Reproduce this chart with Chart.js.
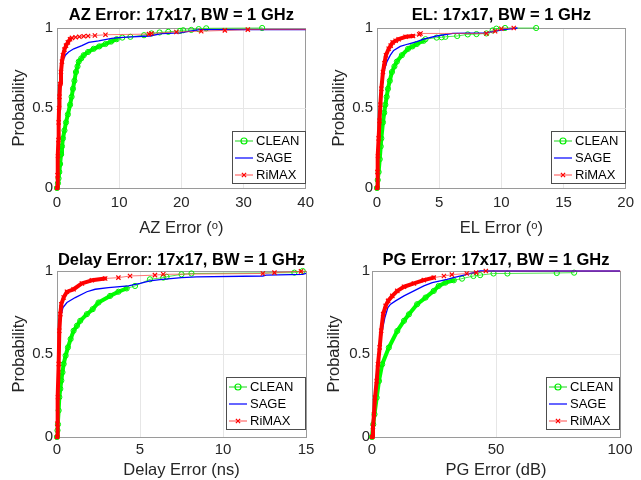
<!DOCTYPE html>
<html>
<head>
<meta charset="utf-8">
<script src="https://cdn.jsdelivr.net/npm/chart.js@4.4.0/dist/chart.umd.min.js"></script>
<style>
  body { margin: 0; background: #fff; width: 641px; height: 480px; position: relative; overflow: hidden; }
  canvas { position: absolute; }
</style>
</head>
<body>
<canvas id="az" width="320" height="240" style="left:0;top:0"></canvas>
<canvas id="el" width="320" height="240" style="left:320px;top:0"></canvas>
<canvas id="delay" width="320" height="240" style="left:0;top:240px"></canvas>
<canvas id="pg" width="320" height="240" style="left:320px;top:240px"></canvas>
<script>
// CDF curves: [error, probability]
const azClean = [[0,0],[0.15,0.03],[0.25,0.06],[0.37,0.1],[0.5,0.15],[0.65,0.21],[0.8,0.26],[0.96,0.31],[1.2,0.36],[1.45,0.41],[1.75,0.46],[2.1,0.52],[2.35,0.57],[2.57,0.62],[2.8,0.67],[3.05,0.725],[3.3,0.76],[3.5,0.79],[3.9,0.81],[4.3,0.83],[5.0,0.85],[5.9,0.87],[6.8,0.885],[7.8,0.9],[8.7,0.915],[9.6,0.93],[10.5,0.94],[11.8,0.945],[14.0,0.955],[15.2,0.966],[16.5,0.972],[17.9,0.976],[19.8,0.982],[20.3,0.986],[21.6,0.988],[22.8,0.993],[24.0,0.998],[33.0,1.0]];
const azSage = [[0,0],[0.1,0.15],[0.2,0.35],[0.3,0.5],[0.45,0.62],[0.6,0.7],[0.8,0.76],[1.0,0.8],[1.34,0.83],[1.87,0.85],[2.7,0.87],[4.0,0.89],[5.1,0.91],[6.7,0.92],[8.8,0.935],[9.9,0.94],[12,0.945],[14.9,0.95],[16.8,0.965],[19.8,0.97],[21.4,0.98],[23,0.99],[40,0.99]];
const azRimax = [[0,0],[0.08,0.08],[0.16,0.2],[0.22,0.3],[0.27,0.41],[0.33,0.5],[0.4,0.57],[0.5,0.65],[0.64,0.725],[0.8,0.79],[0.96,0.83],[1.2,0.865],[1.45,0.89],[1.75,0.91],[2.1,0.93],[2.4,0.938],[3.0,0.942],[3.6,0.945],[4.3,0.948],[5.0,0.95],[6.1,0.953],[7.8,0.958],[14.8,0.962],[15.2,0.966],[19.2,0.975],[23.2,0.98],[27,0.985],[30.7,0.99],[40,0.99]];

const elClean = [[0,0],[0.06,0.05],[0.13,0.1],[0.22,0.18],[0.3,0.26],[0.35,0.31],[0.48,0.41],[0.58,0.47],[0.67,0.52],[0.78,0.57],[0.88,0.62],[1.03,0.67],[1.2,0.725],[1.4,0.76],[1.6,0.79],[2.0,0.83],[2.5,0.87],[2.85,0.885],[3.2,0.9],[3.75,0.92],[3.9,0.93],[4.8,0.94],[5.2,0.942],[5.5,0.945],[6.45,0.95],[7.3,0.96],[8.0,0.962],[8.8,0.966],[9.3,0.985],[9.6,0.996],[10.3,1.0],[12.8,1.0]];
const elSage = [[0,0],[0.08,0.15],[0.15,0.3],[0.28,0.5],[0.4,0.62],[0.54,0.725],[0.8,0.79],[1.07,0.83],[1.34,0.86],[1.87,0.885],[2.5,0.9],[3.2,0.915],[3.75,0.93],[4.8,0.95],[6.1,0.966],[8.8,0.97],[9.5,0.98],[10.2,0.99],[11.3,1.0]];
const elRimax = [[0,0],[0.03,0.1],[0.08,0.2],[0.13,0.31],[0.2,0.42],[0.27,0.52],[0.35,0.62],[0.48,0.725],[0.6,0.78],[0.72,0.83],[0.94,0.87],[1.1,0.89],[1.26,0.91],[1.5,0.92],[1.74,0.93],[2.3,0.945],[2.9,0.95],[3.4,0.96],[3.5,0.966],[8.8,0.966],[9.5,0.98],[10.0,0.995],[11.0,1.0]];

const delayClean = [[0,0],[0.03,0.04],[0.06,0.076],[0.1,0.16],[0.14,0.24],[0.2,0.29],[0.26,0.34],[0.33,0.39],[0.4,0.44],[0.52,0.49],[0.66,0.54],[0.82,0.59],[1.0,0.64],[1.2,0.67],[1.4,0.7],[1.8,0.74],[2.15,0.77],[2.5,0.81],[3.2,0.85],[3.7,0.875],[4.2,0.895],[4.7,0.91],[5.6,0.95],[6.4,0.96],[6.6,0.965],[7.5,0.98],[8.1,0.985],[14.3,0.99],[14.8,1.0]];
const delaySage = [[0,0],[0.03,0.2],[0.07,0.4],[0.1,0.55],[0.14,0.64],[0.26,0.74],[0.36,0.78],[0.6,0.81],[1.1,0.84],[1.8,0.875],[2.3,0.89],[3.1,0.9],[4.3,0.91],[5.0,0.925],[5.6,0.94],[6.2,0.948],[7.5,0.96],[8.4,0.965],[12.4,0.97],[12.6,0.975],[14.8,0.98],[15,0.985]];
const delayRimax = [[0,0],[0.02,0.08],[0.06,0.24],[0.1,0.44],[0.14,0.64],[0.2,0.74],[0.26,0.8],[0.4,0.84],[0.6,0.875],[1.0,0.89],[1.5,0.925],[2.1,0.944],[2.9,0.955],[3.7,0.96],[4.4,0.97],[5.9,0.975],[6.4,0.98],[12.4,0.985],[13.1,0.99],[14.7,0.998],[15,0.998]];

const pgClean = [[0,0],[0.5,0.076],[1.0,0.137],[1.9,0.237],[2.8,0.337],[4.1,0.438],[6.8,0.539],[10.2,0.639],[12.9,0.7],[14.9,0.739],[18.2,0.8],[21.6,0.84],[24.9,0.88],[26.9,0.91],[29.6,0.93],[33,0.944],[36.3,0.954],[40.9,0.97],[43.6,0.975],[49,0.985],[54.6,0.985],[74.5,0.988],[81.5,0.99]];
const pgSage = [[0,0],[0.8,0.2],[1.6,0.35],[2.4,0.45],[3.1,0.54],[4.1,0.64],[5.2,0.72],[6.4,0.78],[7.5,0.8],[9.5,0.82],[12.9,0.85],[16.9,0.88],[20.9,0.91],[24.3,0.93],[30.3,0.95],[32.9,0.96],[38.3,0.98],[43.6,1.0],[100,1.0]];
const pgRimax = [[0,0],[0.4,0.06],[0.8,0.137],[1.2,0.237],[1.9,0.337],[2.4,0.438],[3.1,0.54],[3.7,0.64],[4.5,0.74],[5.5,0.79],[6.5,0.82],[8.2,0.85],[10.2,0.88],[12.9,0.905],[16.9,0.925],[20.9,0.945],[24.9,0.96],[29,0.97],[32.2,0.978],[38.2,0.985],[42,0.99],[45.9,1.0],[100,1.0]];

const azTicks = [0, 10, 20, 30, 40];
const elTicks = [0, 5, 10, 15, 20];
const delayTicks = [0, 5, 10, 15];
const pgTicks = [0, 50, 100];
const probTicks = [0, 0.5, 1];

const FONT = 'Liberation Sans, Arial, Helvetica, sans-serif';
Chart.defaults.font.family = FONT;
Chart.defaults.color = '#262626';

// where the marker band looks solid (markers overlap)
function thick(data, lim, w) {
  return c => data[c.p1DataIndex][1] <= lim ? w : 1;
}
function tone(data, lim, solid, light) {
  return c => data[c.p1DataIndex][1] <= lim ? solid : light;
}
// no marker on the point that only carries the line to the axis edge
function marker(r, xMax) {
  return c => (c.raw && c.raw[0] >= xMax) ? 0 : r;
}

const legendBox = {
  id: 'legendBox',
  afterDatasetsDraw(chart, args, opts) {
    const {ctx, chartArea: a} = chart;
    const w = opts.w, h = 52;
    const x0 = Math.round(a.right - 1 - w), y0 = Math.round(a.bottom - opts.b - h);
    ctx.save();
    ctx.fillStyle = '#fff';
    ctx.fillRect(x0, y0, w, h);
    ctx.strokeStyle = '#4d4d4d';
    ctx.lineWidth = 1;
    ctx.strokeRect(x0 + 0.5, y0 + 0.5, w, h);
    chart.data.datasets.forEach((ds, i) => {
      const y = y0 + 10 + i * 17;
      ctx.strokeStyle = ds.legendColor;
      ctx.lineWidth = 1.2;
      ctx.beginPath();
      ctx.moveTo(x0 + 3, y);
      ctx.lineTo(x0 + 21, y);
      ctx.stroke();
      if (ds.legendMarker) {
        ctx.strokeStyle = ds.pointBorderColor;
        ctx.fillStyle = 'rgba(0,0,0,0)';
        Chart.helpers.drawPoint(ctx, {pointStyle: ds.pointStyle, radius: 3, borderWidth: 1, rotation: 0}, x0 + 12, y);
      }
      ctx.fillStyle = '#000';
      ctx.font = '13px ' + FONT;
      ctx.textBaseline = 'middle';
      ctx.textAlign = 'left';
      ctx.fillText(ds.label, x0 + 24, y + 0.5);
    });
    ctx.restore();
  }
};

function panel(id, title, xLabel, xTicks, clean, sage, rimax, g) {
  const n = xTicks.length;
  const xMax = xTicks[n - 1];
  new Chart(document.getElementById(id), {
    type: 'line',
    data: {
      datasets: [
        {label: 'CLEAN', data: clean, order: 3, legendColor: '#44dd44', legendMarker: true,
         pointStyle: 'circle', pointRadius: marker(2.6, xMax), pointBorderWidth: 1,
         pointBorderColor: '#00ee00', pointBackgroundColor: 'rgba(0,0,0,0)',
         borderJoinStyle: 'round', borderCapStyle: 'round',
         segment: {borderWidth: thick(clean, g.lims[0], 4), borderColor: tone(clean, g.lims[0], '#00ff00', 'rgba(40,220,40,0.8)')}},
        {label: 'SAGE', data: sage, order: 2, legendColor: '#0000ff', legendMarker: false,
         borderColor: '#0000ff', borderWidth: 1.3, pointRadius: 0},
        {label: 'RiMAX', data: rimax, order: 1, legendColor: 'rgba(255,70,70,0.8)', legendMarker: true,
         pointStyle: 'crossRot', pointRadius: marker(3, xMax), pointBorderWidth: 1.2,
         pointBorderColor: '#ff0000', pointBackgroundColor: '#ff0000',
         borderJoinStyle: 'round', borderCapStyle: 'round',
         segment: {borderWidth: thick(rimax, g.lims[1], 4), borderColor: tone(rimax, g.lims[1], '#ff0000', 'rgba(255,60,60,0.7)')}}
      ]
    },
    options: {
      responsive: false,
      animation: false,
      clip: 4,
      layout: {padding: {left: 0, right: g.right, top: 0, bottom: 0}},
      plugins: {
        legend: {display: false},
        tooltip: {enabled: false},
        title: {
          display: true, text: title, fullSize: false, color: '#000',
          font: {size: 16.5, weight: 'bold', lineHeight: 1.2},
          padding: {top: g.tTop, bottom: g.tBottom}
        },
        legendBox: {w: g.lw, b: g.lb}
      },
      scales: {
        x: {
          type: 'linear', min: xTicks[0], max: xMax,
          afterBuildTicks: s => { s.ticks = xTicks.map(v => ({value: v})); },
          afterFit: s => { s.height = g.xh; },
          grid: {drawTicks: false, color: c => (c.index === 0 || c.index === n - 1) ? '#9a9a9a' : '#e6e6e6'},
          border: {color: '#9a9a9a'},
          ticks: {padding: g.xtp, font: {size: 15}, color: '#262626', callback: v => String(v)},
          title: {display: true, text: xLabel, font: {size: 16.5}, color: '#262626', padding: {top: 0, bottom: g.xtb}}
        },
        y: {
          type: 'linear', min: 0, max: 1,
          afterBuildTicks: s => { s.ticks = probTicks.map(v => ({value: v})); },
          afterFit: s => { s.width = g.yw; },
          grid: {drawTicks: false, color: c => (c.index === 0 || c.index === 2) ? '#9a9a9a' : '#e6e6e6'},
          border: {color: '#9a9a9a'},
          ticks: {padding: g.ytp, font: {size: 15}, color: '#262626', callback: v => String(v)},
          title: {display: true, text: 'Probability', font: {size: 16.5}, color: '#262626', padding: {top: g.yTitle, bottom: 0}}
        }
      }
    },
    plugins: [legendBox]
  });
}

panel('az', 'AZ Error: 17x17, BW = 1 GHz', 'AZ Error (\u1D52)', azTicks, azClean, azSage, azRimax,
  {right: 14, yw: 57, xh: 52, tTop: 6, tBottom: 2.2, xtp: 6, xtb: 2, ytp: 4, yTitle: 10, lw: 73, lb: 5, lims: [0.93, 0.935]});
panel('el', 'EL: 17x17, BW = 1 GHz', 'EL Error (\u1D52)', elTicks, elClean, elSage, elRimax,
  {right: 14, yw: 57, xh: 52, tTop: 6, tBottom: 2.2, xtp: 6, xtb: 2, ytp: 4, yTitle: 10, lw: 74, lb: 5, lims: [0.92, 0.95]});
panel('delay', 'Delay Error: 17x17, BW = 1 GHz', 'Delay Error (ns)', delayTicks, delayClean, delaySage, delayRimax,
  {right: 14, yw: 57, xh: 43, tTop: 10.5, tBottom: 0.7, xtp: 4, xtb: 0, ytp: 4, yTitle: 10, lw: 79, lb: 8, lims: [0.9, 0.955]});
panel('pg', 'PG Error: 17x17, BW = 1 GHz', 'PG Error (dB)', pgTicks, pgClean, pgSage, pgRimax,
  {right: 20, yw: 52, xh: 43, tTop: 10.5, tBottom: 0.7, xtp: 4, xtb: 0, ytp: 2, yTitle: 5, lw: 73, lb: 8, lims: [0.95, 0.96]});
</script>
</body>
</html>
